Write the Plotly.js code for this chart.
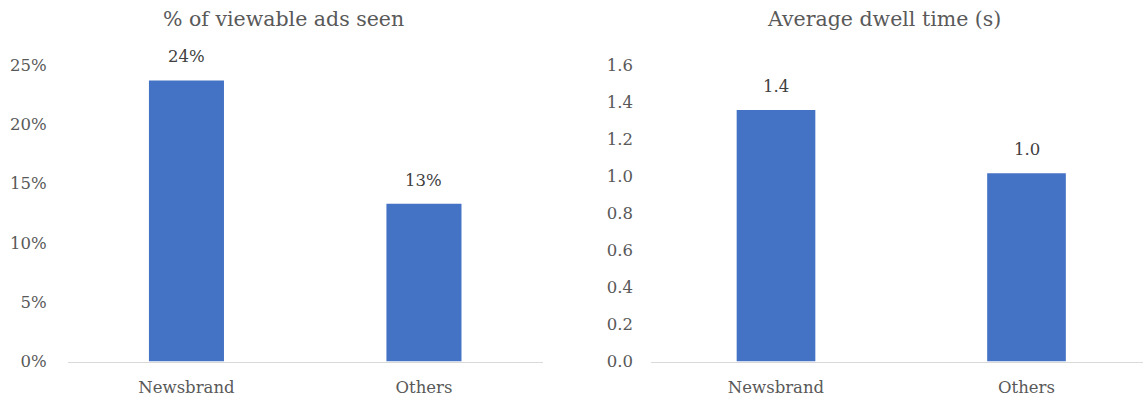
<!DOCTYPE html>
<html>
<head>
<meta charset="utf-8">
<script src="https://cdn.plot.ly/plotly-3.0.1.min.js"></script>
<style>
  html, body { margin: 0; padding: 0; background: #ffffff; }
  #chart { width: 1143px; height: 400px; }
</style>
</head>
<body>
<div id="chart"></div>
<script>
// Categories shared by both panels
const categories = ['Newsbrand', 'Others'];

// Left panel: share of viewable ads that were seen
const viewableSeen = [0.237, 0.133];
const viewableTicks = [0, 0.05, 0.10, 0.15, 0.20, 0.25];

// Right panel: average dwell time in seconds
const dwellTime = [1.357, 1.016];
const dwellTicks = [0, 0.2, 0.4, 0.6, 0.8, 1.0, 1.2, 1.4, 1.6];

const W = 1143, H = 400;
const barColor = '#4472C4';
const tickColor = '#595959';
const labelColor = '#404040';
const lineColor = '#D9D9D9';
const serif = 'DejaVu Serif';
const tickSize = 16.5;
const titleSize = 20.5;

const px = v => v / W;
const py = v => 1 - v / H;

const traces = [
  {
    type: 'bar', x: categories, y: viewableSeen,
    xaxis: 'x', yaxis: 'y', width: 0.316,
    marker: { color: barColor }, hoverinfo: 'skip'
  },
  {
    type: 'bar', x: categories, y: dwellTime,
    xaxis: 'x2', yaxis: 'y2', width: 0.314,
    marker: { color: barColor }, hoverinfo: 'skip'
  }
];

const yDomain = [py(361.5), py(65)];

const xCommon = {
  type: 'category', showgrid: false, zeroline: false,
  showline: true, linecolor: lineColor, linewidth: 1.5,
  ticks: '', tickfont: { family: serif, size: tickSize, color: tickColor },
  ticklabelstandoff: 10, fixedrange: true
};
const yCommon = {
  showgrid: false, zeroline: false, showline: false, ticks: '',
  tickfont: { family: serif, size: tickSize, color: tickColor },
  fixedrange: true
};

// Value labels above each bar, formatted from the same arrays
const fmtPct = v => Math.round(v * 100) + '%';
const fmtOne = v => v.toFixed(1);
const annotations = [];
categories.forEach((c, i) => {
  annotations.push({
    xref: 'x', yref: 'y', x: c, y: viewableSeen[i], text: fmtPct(viewableSeen[i]),
    showarrow: false, yanchor: 'bottom', yshift: 12,
    font: { family: serif, size: tickSize, color: labelColor }
  });
  annotations.push({
    xref: 'x2', yref: 'y2', x: c, y: dwellTime[i], text: fmtOne(dwellTime[i]),
    showarrow: false, yanchor: 'bottom', yshift: 12,
    font: { family: serif, size: tickSize, color: labelColor }
  });
});

// Panel titles
annotations.push({
  xref: 'paper', yref: 'paper', x: px(283.5), y: py(19), text: '% of viewable ads seen',
  showarrow: false, xanchor: 'center', yanchor: 'middle',
  font: { family: serif, size: titleSize, color: tickColor }
});
annotations.push({
  xref: 'paper', yref: 'paper', x: px(884), y: py(19), text: 'Average dwell time (s)',
  showarrow: false, xanchor: 'center', yanchor: 'middle',
  font: { family: serif, size: titleSize, color: tickColor }
});

const layout = {
  width: W, height: H,
  margin: { l: 0, r: 0, t: 0, b: 0 },
  paper_bgcolor: '#ffffff', plot_bgcolor: '#ffffff',
  showlegend: false,
  font: { family: serif },
  xaxis: Object.assign({}, xCommon, {
    domain: [px(67.7), px(542.7)], range: [-0.5, 1.5], anchor: 'y'
  }),
  yaxis: Object.assign({}, yCommon, {
    domain: yDomain, range: [0, 0.25], anchor: 'x',
    tickvals: viewableTicks, tickformat: '.0%', ticklabelstandoff: 20
  }),
  xaxis2: Object.assign({}, xCommon, {
    domain: [px(651), 1], range: [-0.499, 1.465], anchor: 'y2'
  }),
  yaxis2: Object.assign({}, yCommon, {
    domain: yDomain, range: [0, 1.6], anchor: 'x2',
    tickvals: dwellTicks, tickformat: '.1f', ticklabelstandoff: 17
  }),
  annotations: annotations
};

Plotly.newPlot('chart', traces, layout, { displayModeBar: false, staticPlot: true });
</script>
</body>
</html>
